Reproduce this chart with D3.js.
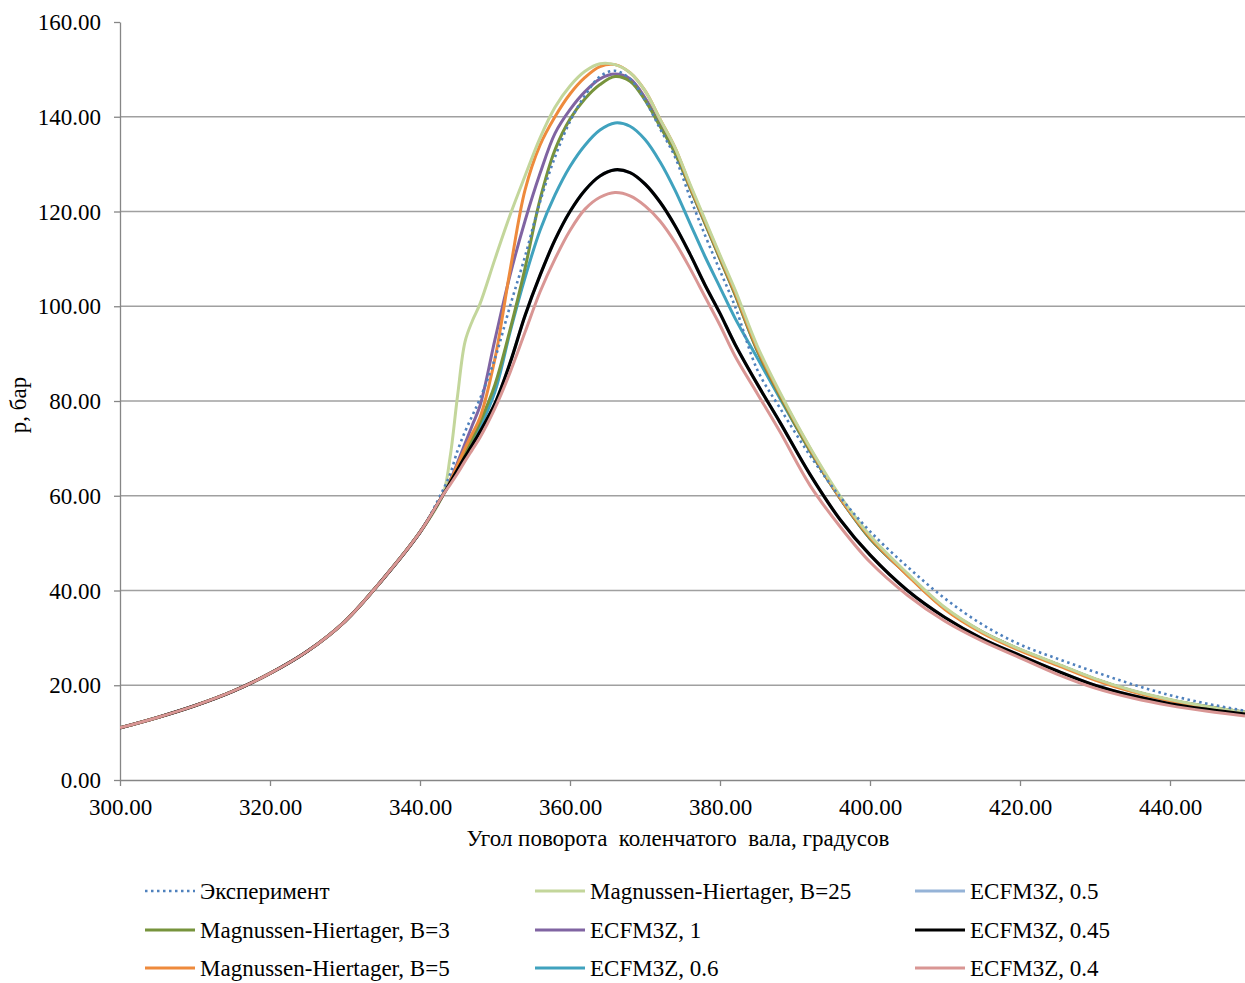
<!DOCTYPE html>
<html>
<head>
<meta charset="utf-8">
<script src="https://cdn.jsdelivr.net/npm/d3@7"></script>
<style>
  body { margin: 0; background: #fff; }
  svg text { font-family: "Liberation Serif", "Times New Roman", serif; fill: #000; }
</style>
</head>
<body>
<svg width="1245" height="983"></svg>
<script>
// compression stroke, shared by every curve
var compAngles  = [300, 305, 310, 315, 320, 325, 330, 335, 340];
var compression = [11.0, 13.2, 15.7, 18.7, 22.5, 27.2, 33.5, 42.3, 52.3];

// combustion part, crank angle grid
var angles = [343, 344, 345, 346, 347, 348, 350, 352, 354, 356, 358, 360, 362, 364, 366, 368, 370,
              372, 374, 376, 378, 380, 382, 385, 388, 392, 396, 400, 405, 410, 415, 420, 425, 430,
              435, 440, 445, 450];

var experiment = [61, 64.5, 69.5, 73.5, 77, 80.5, 89, 100, 110.5, 122, 131.5, 139, 144.5, 148.5, 149.7, 148, 143.5,
                  137.5, 131.5, 123, 115, 107.5, 100, 86.5, 78.5, 68.5, 59.8, 52.5, 45, 38.3, 32.8, 28.6, 25.6, 22.8,
                  20.2, 17.9, 16.1, 14.6];
var mhB3 = [60, 63, 66, 69, 72.2, 75.5, 83.5, 95, 108, 122.5, 133, 139.5, 143.8, 146.8, 148.5, 147.5, 143.5,
            138, 132.3, 125, 117.5, 110, 102.5, 90.5, 81, 69.5, 59.5, 51, 43.3, 36.2, 31.2, 27.5, 24.4, 21.3,
            18.8, 16.9, 15.5, 14.3];
var mhB5 = [60, 63, 66.5, 70, 73.2, 76.5, 89, 107.5, 124.5, 134, 140, 144.8, 148.3, 150.6, 151, 149.3, 145.5,
            139.5, 133.5, 125.5, 118, 110.5, 103, 91, 81.5, 70, 59.6, 51.3, 43.2, 36, 31, 27.3, 24.2, 21.1,
            18.6, 16.7, 15.3, 14.2];
var mhB25 = [60, 68, 81, 92.5, 97, 100.5, 110, 119.2, 127.5, 135.5, 142, 146.5, 149.6, 151.2, 151, 149.3, 145.5,
             139.5, 133.5, 125.8, 118.3, 110.8, 103.5, 91.5, 81.8, 70.2, 60, 51.6, 43.6, 36.4, 31.3, 27.6, 24.5, 21.4,
             18.9, 17, 15.5, 14.3];
var ecfm1 = [60, 63.2, 67, 71, 75, 79, 93, 106.5, 118, 128, 136.5, 141.5, 145.3, 148, 149, 148, 144,
             138.3, 132.5, 125, 117.5, 110, 102.5, 90.5, 81, 69.5, 59.5, 51, 43.3, 36.2, 31.2, 27.5, 24.4, 21.3,
             18.8, 16.9, 15.5, 14.3];
var ecfm06 = [60, 63, 66, 69, 71.8, 74.5, 82, 94.5, 106, 116, 123.5, 129.5, 134, 137.2, 138.7, 138, 135.2,
              130.5, 124.5, 117.5, 110.5, 104, 97.5, 89, 80.5, 69.5, 59.5, 51, 43.3, 36.2, 31.2, 27.5, 24.4, 21.3,
              18.8, 16.9, 15.5, 14.3];
var ecfm05 = [60, 62.7, 65.5, 68.2, 70.8, 73.5, 79.5, 88, 98, 106.5, 114, 120, 124.5, 127.5, 128.8, 128.2, 125.8,
              122, 117, 111, 104.5, 98.5, 92, 83.5, 75.5, 64.5, 55, 47.5, 40, 34.3, 29.8, 26.3, 23, 20,
              17.8, 16.1, 14.9, 13.9];
var ecfm045 = [60, 62.7, 65.5, 68.2, 70.8, 73.5, 79.5, 88, 98, 106.5, 114, 120, 124.5, 127.5, 128.8, 128.2, 125.8,
               122, 117, 111, 104.5, 98.5, 92, 83.5, 75.5, 64.5, 55, 47.5, 40, 34.3, 29.8, 26.3, 23, 20,
               17.8, 16.1, 14.9, 13.9];
var ecfm04 = [60, 62.3, 64.7, 67.3, 69.8, 72.3, 78.5, 86, 94.5, 103, 110, 116, 120.5, 123, 124, 123.3, 121.2,
              118, 113.5, 108, 102, 96, 89.5, 81.5, 73.5, 62.2, 53.5, 46, 39, 33.5, 29.3, 25.8, 22.3, 19.4,
              17.3, 15.7, 14.5, 13.5];

var xTicks = [300, 320, 340, 360, 380, 400, 420, 440];
var yTicks = [0, 20, 40, 60, 80, 100, 120, 140, 160];

// legend order (column by column) and drawing order
var series = [
    { name: "Эксперимент", values: experiment, color: "#4F81BD", dotted: true },
    { name: "Magnussen-Hiertager, B=3", values: mhB3, color: "#77933C" },
    { name: "Magnussen-Hiertager, B=5", values: mhB5, color: "#EE8A3C" },
    { name: "Magnussen-Hiertager, B=25", values: mhB25, color: "#C3D69B" },
    { name: "ECFM3Z, 1", values: ecfm1, color: "#8064A2" },
    { name: "ECFM3Z, 0.6", values: ecfm06, color: "#40A2BE" },
    { name: "ECFM3Z, 0.5", values: ecfm05, color: "#95B3D7" },
    { name: "ECFM3Z, 0.45", values: ecfm045, color: "#000000" },
    { name: "ECFM3Z, 0.4", values: ecfm04, color: "#D99694" }
];
var drawOrder = ["ECFM3Z, 0.5", "ECFM3Z, 0.6", "ECFM3Z, 1", "Magnussen-Hiertager, B=3",
                 "Magnussen-Hiertager, B=5", "Magnussen-Hiertager, B=25", "Эксперимент",
                 "ECFM3Z, 0.45", "ECFM3Z, 0.4"];

var svg = d3.select("svg");
var plotLeft = 120, plotRight = 1245, plotTop = 22, plotBottom = 780;

var x = d3.scaleLinear().domain([300, 450]).range([plotLeft, plotRight]);
var y = d3.scaleLinear().domain([0, 160]).range([plotBottom, plotTop]);

// gridlines
svg.append("g")
    .selectAll("line")
    .data(yTicks.filter(function(d) { return d > 0 && d < 160; }))
    .enter().append("line")
    .attr("x1", plotLeft).attr("x2", plotRight)
    .attr("y1", function(d) { return y(d); })
    .attr("y2", function(d) { return y(d); })
    .attr("stroke", "#A0A0A0")
    .attr("stroke-width", 1.3);

var fmt = d3.format(".2f");

var xAxis = svg.append("g")
    .attr("transform", "translate(0," + plotBottom + ")")
    .call(d3.axisBottom(x).tickValues(xTicks).tickSize(6).tickSizeOuter(0).tickFormat(fmt));
var yAxis = svg.append("g")
    .attr("transform", "translate(" + plotLeft + ",0)")
    .call(d3.axisLeft(y).tickValues(yTicks).tickSize(6).tickSizeOuter(0).tickFormat(fmt));

[xAxis, yAxis].forEach(function(a) {
    a.selectAll("path, line").attr("stroke", "#868686").attr("stroke-width", 1.3);
    a.selectAll("text").style("font-size", "23px");
});
xAxis.selectAll("text").attr("dy", "0").attr("y", 35);
yAxis.selectAll("text").attr("x", -19).attr("dy", "0.33em");

// curves
svg.append("clipPath").attr("id", "plotclip")
    .append("rect").attr("x", plotLeft).attr("y", 0)
    .attr("width", plotRight - plotLeft).attr("height", plotBottom);

var line = d3.line()
    .x(function(d) { return x(d[0]); })
    .y(function(d) { return y(d[1]); })
    .curve(d3.curveCatmullRom.alpha(0.5));

function points (s) {
    var pts = compAngles.map(function(a, i) { return [a, compression[i]]; });
    return pts.concat(angles.map(function(a, i) { return [a, s.values[i]]; }));
}

var plot = svg.append("g").attr("clip-path", "url(#plotclip)");
drawOrder.forEach(function(name) {
    var s = series.filter(function(d) { return d.name === name; })[0];
    plot.append("path")
        .attr("d", line(points(s)))
        .attr("fill", "none")
        .attr("stroke", s.color)
        .attr("stroke-width", s.dotted ? 2.6 : (s.color === "#000000" ? 3.2 : 3))
        .attr("stroke-dasharray", s.dotted ? "2.5,3.5" : null)
        .attr("stroke-linejoin", "round");
});

// axis titles
svg.append("text")
    .attr("x", 678).attr("y", 846)
    .attr("text-anchor", "middle")
    .style("font-size", "23px")
    .style("white-space", "pre")
    .text("Угол поворота  коленчатого  вала, градусов");

svg.append("text")
    .attr("transform", "translate(26,405) rotate(-90)")
    .attr("text-anchor", "middle")
    .style("font-size", "23px")
    .text("p, бар");

// legend
var colX = [145, 535, 915];
var rowY = [891, 930, 968];
series.forEach(function(s, i) {
    var col = Math.floor(i / 3), row = i % 3;
    var g = svg.append("g").attr("transform", "translate(" + colX[col] + "," + rowY[row] + ")");
    g.append("line")
        .attr("x1", 0).attr("x2", 50).attr("y1", 0).attr("y2", 0)
        .attr("stroke", s.color)
        .attr("stroke-width", s.dotted ? 2.6 : 3)
        .attr("stroke-dasharray", s.dotted ? "2.5,3.5" : null);
    g.append("text")
        .attr("x", 55).attr("dy", "0.33em")
        .style("font-size", "23px")
        .text(s.name);
});
</script>
</body>
</html>
